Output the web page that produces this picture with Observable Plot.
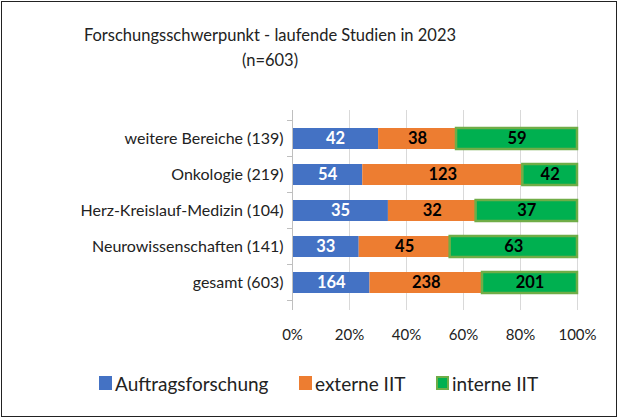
<!DOCTYPE html>
<html><head><meta charset="utf-8">
<script src="https://cdn.jsdelivr.net/npm/d3@7"></script>
<script src="https://cdn.jsdelivr.net/npm/@observablehq/plot@0.6"></script>
<style>
body{margin:0;background:#fff;font-family:Lato,"Noto Sans",sans-serif;}
#frame{position:absolute;left:1px;top:1px;width:614px;height:414px;border:1.5px solid #222;}
.t{position:absolute;left:0;width:540px;text-align:center;font-size:16.5px;color:#222;}
#chart{position:absolute;left:0;top:0;}
#legend{position:absolute;top:372px;left:0;width:619px;font-size:19px;color:#222;}
.li{position:absolute;top:0;display:flex;align-items:center;height:22px;}
.sw{width:13px;height:14px;margin-right:3px;box-sizing:border-box;}
</style></head>
<body>
<div id="frame"></div>
<div class="t" style="top:25px">Forschungsschwerpunkt - laufende Studien in 2023</div>
<div class="t" style="top:50px">(n=603)</div>
<div id="chart"></div>
<div id="legend"></div>
<script>
const categories = ["weitere Bereiche (139)", "Onkologie (219)", "Herz-Kreislauf-Medizin (104)", "Neurowissenschaften (141)", "gesamt (603)"];
const series = ["Auftragsforschung", "externe IIT", "interne IIT"];
const auftragsforschung = [42, 54, 35, 33, 164];
const externeIIT = [38, 123, 32, 45, 238];
const interneIIT = [59, 42, 37, 63, 201];
const xTicks = [0, 0.2, 0.4, 0.6, 0.8, 1];

const fills = ["#4472C4", "#ED7D31", "#00B050"];
const strokes = ["none", "none", "#70AD47"];
const textColors = ["#fff", "#000", "#000"];

const cols = [auftragsforschung, externeIIT, interneIIT];
const data = [];
categories.forEach((c, i) => series.forEach((s, j) => data.push({cat: c, series: s, value: cols[j][i], j})));

const fmt = d => Math.round(d * 100) + "%";

const plot = Plot.plot({
  width: 619, height: 350,
  marginLeft: 292, marginRight: 42, marginTop: 110, marginBottom: 40,
  style: {fontFamily: "Lato, 'Noto Sans', sans-serif", fontSize: "16px", color: "#222", background: "transparent", overflow: "visible"},
  x: {domain: [0, 1], label: null},
  y: {domain: categories, label: null, padding: 0.42},
  color: {domain: series, range: fills},
  marks: [
    Plot.gridX(xTicks, {stroke: "#d9d9d9", strokeOpacity: 1}),
    Plot.axisX(xTicks, {tickSize: 0, tickPadding: 19, tickFormat: fmt, fontSize: 15}),
    Plot.axisY({tickSize: 0, tickPadding: 9, fontSize: 16}),
    Plot.barX(data, Plot.stackX({offset: "normalize", x: "value", y: "cat", fill: "series",
      stroke: d => strokes[d.j], strokeWidth: 2.5})),
    Plot.ruleX([0], {stroke: "#bfbfbf"}),
    Plot.text(data, Plot.stackX({offset: "normalize", x: "value", y: "cat", text: d => d.value,
      fill: d => textColors[d.j], fontWeight: "bold", fontSize: 16.5})),
  ]
});
document.getElementById("chart").appendChild(plot);

// left axis tick marks at band boundaries
const yScale = plot.scale("y");
const bw = yScale.step;
const first = yScale.apply(categories[0]) - (bw - yScale.bandwidth) / 2;
const yb = d3.range(categories.length + 1).map(i => first + i * bw);
d3.select(plot).append("g").selectAll("line").data(yb).join("line")
  .attr("x1", 287).attr("x2", 292).attr("y1", d => d).attr("y2", d => d).attr("stroke", "#bfbfbf");

const lx = [99, 299, 436];
const leg = document.getElementById("legend");
series.forEach((s, j) => {
  const el = document.createElement("div");
  el.className = "li";
  el.style.left = lx[j] + "px";
  el.innerHTML = `<div class="sw" style="background:${fills[j]};border:${j===2?'2.5px solid #70AD47':'none'}"></div><span>${s}</span>`;
  leg.appendChild(el);
});
</script>
</body></html>
